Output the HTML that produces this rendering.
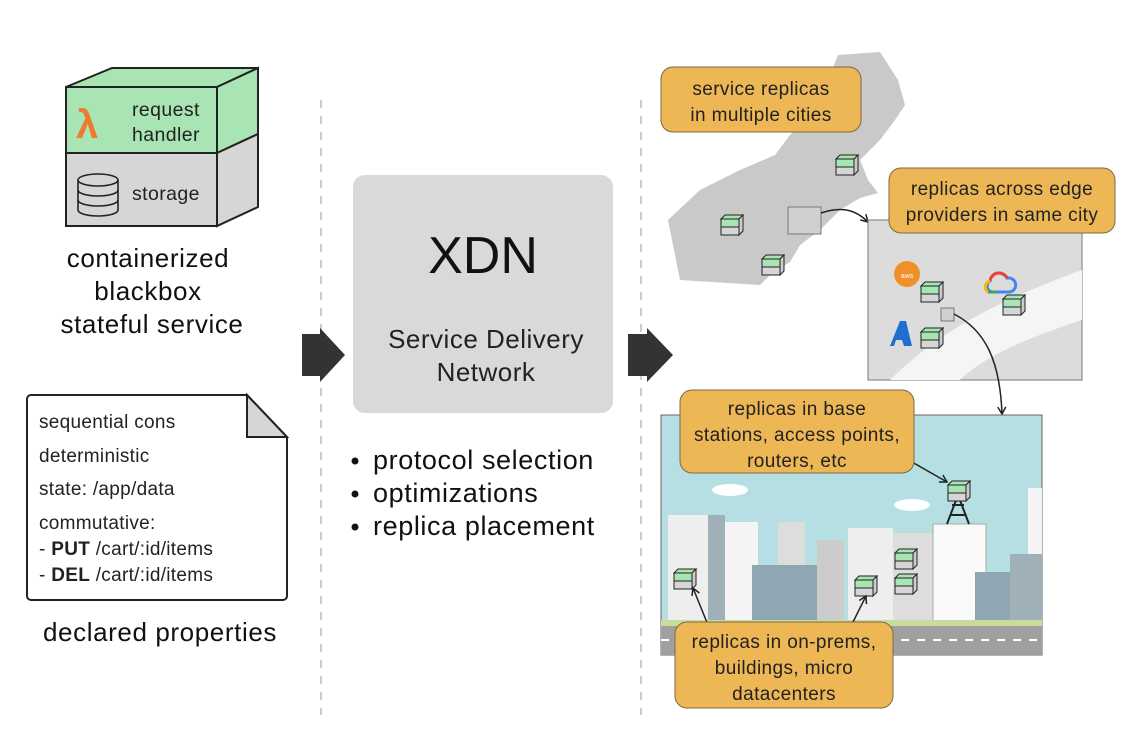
<!DOCTYPE html>
<html><head><meta charset="utf-8"><style>
html,body{margin:0;padding:0;background:#fff;}
svg{display:block;font-family:"Liberation Sans",sans-serif;}
</style></head><body>
<svg width="1134" height="740" viewBox="0 0 1134 740" xmlns="http://www.w3.org/2000/svg">
<defs>
<symbol id="mc" viewBox="0 0 24 22">
<polygon points="1,5 5,1 23,1 19,5" fill="#a8e4b4" stroke="#222" stroke-width="1"/>
<rect x="1" y="5" width="18" height="8" fill="#a8e4b4" stroke="#222" stroke-width="1"/>
<rect x="1" y="13" width="18" height="8" fill="#d6d6d6" stroke="#222" stroke-width="1"/>
<polygon points="19,5 23,1 23,17 19,21" fill="#ccc" stroke="#222" stroke-width="1"/>
</symbol>
<marker id="ah" markerWidth="10" markerHeight="10" refX="8" refY="5" orient="auto" markerUnits="userSpaceOnUse"><path d="M1,1 L8,5 L1,9" fill="none" stroke="#222" stroke-width="1.5"/></marker>
</defs>

<!-- cube -->
<polygon points="66,87 112,68 258,68 217,87" fill="#a8e4b4" stroke="#222" stroke-width="2"/>
<rect x="66" y="87" width="151" height="66" fill="#a8e4b4" stroke="#222" stroke-width="2"/>
<rect x="66" y="153" width="151" height="73" fill="#d6d6d6" stroke="#222" stroke-width="2"/>
<polygon points="217,87 258,68 258,134 217,153" fill="#a8e4b4" stroke="#222" stroke-width="2"/>
<polygon points="217,153 258,134 258,207 217,226" fill="#d6d6d6" stroke="#222" stroke-width="2"/>
<text x="76" y="138" font-size="40" font-weight="bold" fill="#ee7a30">λ</text>
<text x="132" y="116" font-size="19.5" letter-spacing="0.4" fill="#222">request</text>
<text x="132" y="141" font-size="19.5" letter-spacing="0.4" fill="#222">handler</text>
<g fill="#d6d6d6" stroke="#222" stroke-width="1.6">
<path d="M78,180 v30 a20,6 0 0 0 40,0 v-30"/>
<ellipse cx="98" cy="180" rx="20" ry="6"/>
<path d="M78,190 a20,6 0 0 0 40,0 M78,200 a20,6 0 0 0 40,0" fill="none"/>
</g>
<text x="132" y="200" font-size="19.5" letter-spacing="0.4" fill="#222">storage</text>
<g font-size="26" letter-spacing="0.6" fill="#111" text-anchor="middle">
<text x="148" y="267">containerized</text>
<text x="148" y="300">blackbox</text>
<text x="152" y="333">stateful service</text>
</g>

<!-- note -->
<path d="M31,395 H247 L287,437 V596 a4,4 0 0 1 -4,4 H31 a4,4 0 0 1 -4,-4 V399 a4,4 0 0 1 4,-4 Z" fill="#fff" stroke="#222" stroke-width="2"/>
<polygon points="247,395 287,437 247,437" fill="#d6d6d6" stroke="#222" stroke-width="2"/>
<g font-size="19" letter-spacing="0.3" fill="#222">
<text x="39" y="428">sequential cons</text>
<text x="39" y="462">deterministic</text>
<text x="39" y="495">state: /app/data</text>
<text x="39" y="529">commutative:</text>
<text x="39" y="555">- <tspan font-weight="bold">PUT</tspan> /cart/:id/items</text>
<text x="39" y="581">- <tspan font-weight="bold">DEL</tspan> /cart/:id/items</text>
</g>
<text x="160" y="641" font-size="26" letter-spacing="0.6" fill="#111" text-anchor="middle">declared properties</text>

<!-- dashed lines -->
<line x1="321" y1="100" x2="321" y2="715" stroke="#ccc" stroke-width="2" stroke-dasharray="8,8"/>
<line x1="641" y1="100" x2="641" y2="715" stroke="#ccc" stroke-width="2" stroke-dasharray="8,8"/>

<!-- arrows -->
<polygon points="302,334 320,334 320,328 345,355 320,382 320,376 302,376" fill="#333"/>
<polygon points="628,334 647,334 647,328 673,355 647,382 647,376 628,376" fill="#333"/>

<!-- XDN -->
<rect x="353" y="175" width="260" height="238" rx="12" fill="#d9d9d9"/>
<text x="483" y="273" font-size="52" fill="#111" text-anchor="middle">XDN</text>
<text x="486" y="348" font-size="26" letter-spacing="0.5" fill="#222" text-anchor="middle">Service Delivery</text>
<text x="486" y="381" font-size="26" letter-spacing="0.5" fill="#222" text-anchor="middle">Network</text>
<g font-size="27" letter-spacing="0.6" fill="#111">
<circle cx="355" cy="461" r="3.5"/><text x="373" y="469">protocol selection</text>
<circle cx="355" cy="494" r="3.5"/><text x="373" y="502">optimizations</text>
<circle cx="355" cy="527" r="3.5"/><text x="373" y="535">replica placement</text>
</g>

<!-- map -->
<path d="M838,55 L880,52 L898,80 L905,105 L895,120 L880,140 L860,160 L868,180 L878,193 L860,198 L840,210 L820,230 L800,245 L790,262 L770,275 L760,285 L680,280 L668,220 L700,190 L740,170 L775,155 L790,135 L805,120 L820,100 L830,75 Z" fill="#c9c9c9"/>
<use href="#mc" x="835" y="154" width="24" height="22"/>
<use href="#mc" x="720" y="214" width="24" height="22"/>
<use href="#mc" x="761" y="254" width="24" height="22"/>
<rect x="788" y="207" width="33" height="27" fill="#d0d0d0" stroke="#777" stroke-width="1"/>
<path d="M821,213 C845,205 858,212 868,222" fill="none" stroke="#222" stroke-width="1.5" marker-end="url(#ah)"/>

<rect x="868" y="220" width="214" height="160" fill="#dcdcdc" stroke="#777" stroke-width="1"/>
<path d="M890,380 C940,330 1000,300 1082,270 L1082,320 C1020,340 980,360 960,380 Z" fill="#f5f5f5"/>
<circle cx="907" cy="274" r="13" fill="#f0902a"/>
<text x="907" y="278" font-size="7" fill="#fff" text-anchor="middle">aws</text>
<path d="M990,281 a9,9 0 0 1 17,-3 a7,7 0 0 1 3,14 h-18 a6,6 0 0 1 -2,-11z" fill="none" stroke="#4285f4" stroke-width="3"/>
<path d="M990,281 a9,9 0 0 1 17,-3" fill="none" stroke="#ea4335" stroke-width="3"/>
<path d="M988,292 h8" stroke="#34a853" stroke-width="3"/>
<path d="M990,281 a6,6 0 0 0 -2,11" fill="none" stroke="#fbbc05" stroke-width="3"/>
<polygon points="890,346 900,321 906,321 912,346 904,346 902,340 896,340 894,346" fill="#1f6fd0"/>
<use href="#mc" x="920" y="281" width="24" height="22"/>
<use href="#mc" x="1002" y="294" width="24" height="22"/>
<use href="#mc" x="920" y="327" width="24" height="22"/>
<rect x="941" y="308" width="13" height="13" fill="#d0d0d0" stroke="#777" stroke-width="1"/>
<path d="M954,314 C985,330 1000,360 1002,414" fill="none" stroke="#222" stroke-width="1.5" marker-end="url(#ah)"/>

<!-- scene -->
<rect x="661" y="415" width="381" height="240" fill="#b5dfe3" stroke="#666" stroke-width="1"/>
<ellipse cx="730" cy="490" rx="18" ry="6" fill="#fff"/>
<ellipse cx="912" cy="505" rx="18" ry="6" fill="#fff"/>
<g>
<rect x="668" y="515" width="57" height="108" fill="#eee"/><rect x="708" y="515" width="17" height="108" fill="#9fb0b8"/>
<rect x="725" y="522" width="33" height="101" fill="#f4f4f4"/>
<rect x="778" y="522" width="27" height="101" fill="#ddd"/>
<rect x="752" y="565" width="65" height="58" fill="#8fa6b3"/>
<rect x="817" y="540" width="27" height="83" fill="#ccc"/>
<rect x="848" y="528" width="45" height="95" fill="#eee"/>
<rect x="893" y="533" width="40" height="90" fill="#ddd"/>
<rect x="933" y="524" width="53" height="99" fill="#fafafa" stroke="#aaa"/>
<rect x="975" y="572" width="35" height="51" fill="#8fa6b3"/>
<rect x="1010" y="554" width="32" height="69" fill="#9fb0b8"/>
<rect x="1028" y="488" width="14" height="66" fill="#f4f4f4"/>
</g>
<path d="M947,524 L958,495 L969,524 M950,515 L966,515 M952,505 L964,505" fill="none" stroke="#222" stroke-width="2"/>
<rect x="661" y="620" width="381" height="6" fill="#c9dc9c"/>
<rect x="661" y="626" width="381" height="29" fill="#a0a0a0"/>
<line x1="661" y1="640" x2="1042" y2="640" stroke="#fff" stroke-width="2" stroke-dasharray="8,8"/>
<use href="#mc" x="947" y="480" width="24" height="22"/>
<use href="#mc" x="673" y="568" width="24" height="22"/>
<use href="#mc" x="854" y="575" width="24" height="22"/>
<use href="#mc" x="894" y="548" width="24" height="22"/>
<use href="#mc" x="894" y="573" width="24" height="22"/>
<line x1="912" y1="462" x2="947" y2="482" stroke="#222" stroke-width="1.5" marker-end="url(#ah)"/>
<line x1="708" y1="625" x2="693" y2="588" stroke="#222" stroke-width="1.5" marker-end="url(#ah)"/>
<line x1="853" y1="622" x2="866" y2="596" stroke="#222" stroke-width="1.5" marker-end="url(#ah)"/>

<!-- labels -->
<g fill="#edb755" stroke="#7a6a44" stroke-width="1">
<rect x="661" y="67" width="200" height="65" rx="12"/>
<rect x="889" y="168" width="226" height="65" rx="12"/>
<rect x="680" y="390" width="234" height="83" rx="12"/>
<rect x="675" y="622" width="218" height="86" rx="12"/>
</g>
<g font-size="19" letter-spacing="0.4" fill="#222" text-anchor="middle">
<text x="761" y="95">service replicas</text>
<text x="761" y="121">in multiple cities</text>
<text x="1002" y="195">replicas across edge</text>
<text x="1002" y="221">providers in same city</text>
<text x="797" y="415">replicas in base</text>
<text x="797" y="441">stations, access points,</text>
<text x="797" y="467">routers, etc</text>
<text x="784" y="648">replicas in on-prems,</text>
<text x="784" y="674">buildings, micro</text>
<text x="784" y="700">datacenters</text>
</g>
</svg>
</body></html>
